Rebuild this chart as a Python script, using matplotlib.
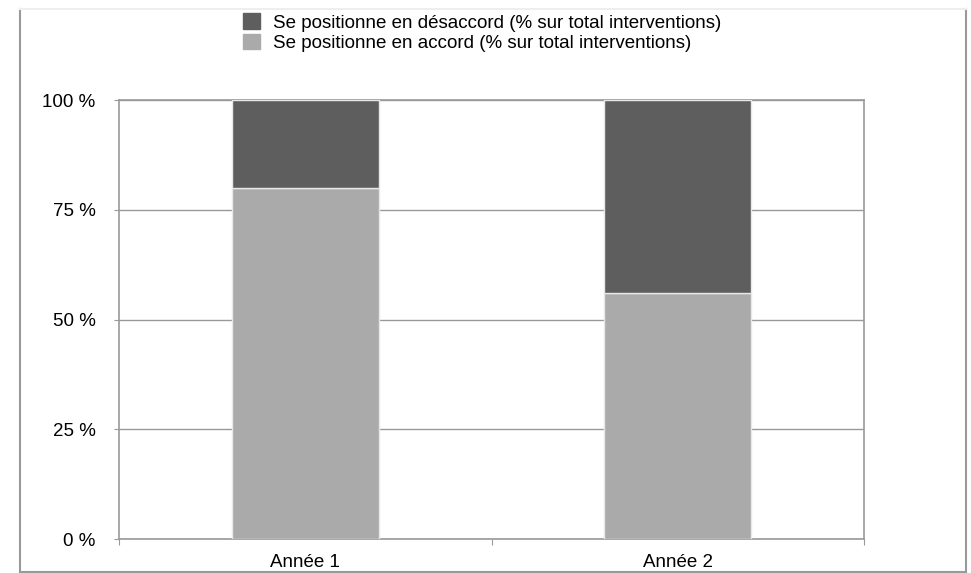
import matplotlib.pyplot as plt
from matplotlib.lines import Line2D
from matplotlib.patches import Patch

plt.rcParams['font.family'] = ['Liberation Sans', 'DejaVu Sans']

# categories and stacked shares (percent of total interventions)
years = ['Année 1', 'Année 2']
accord = [80, 56]
desaccord = [20, 44]
ytick_vals = [0, 25, 50, 75, 100]
ytick_labels = ['0 %', '25 %', '50 %', '75 %', '100 %']

c_dark = '#5e5e5e'
c_light = '#aaaaaa'
c_grid = '#999999'

fig = plt.figure(figsize=(9.71, 5.73), dpi=100)
ax = fig.add_axes([119 / 971, 34 / 573, 745 / 971, 439 / 573])

x = range(len(years))
ax.bar(x, accord, width=0.395, color=c_light, edgecolor='#e8e8e8', linewidth=1.0, zorder=3)
ax.bar(x, desaccord, bottom=accord, width=0.395, color=c_dark, edgecolor='#e8e8e8',
       linewidth=1.0, zorder=3)

ax.set_xlim(-0.5, 1.5)
ax.set_ylim(0, 100)
ax.set_yticks(ytick_vals)
ax.set_yticklabels(ytick_labels, fontsize=13.5)
ax.set_xticks([-0.5, 0.5, 1.5])
ax.set_xticklabels([])
ax.set_xticks(list(x), minor=True)
ax.set_xticklabels(years, minor=True, fontsize=13.5)
ax.tick_params(axis='x', which='minor', length=0, pad=11)
ax.tick_params(axis='x', which='major', length=4, color=c_grid)
ax.tick_params(axis='y', length=3.5, color=c_grid, pad=13.5)
ax.grid(axis='y', color=c_grid, linewidth=1.0, zorder=0)
for s in ax.spines.values():
    s.set_color(c_grid)
    s.set_linewidth(1.2)

# outer frame: grey sides and bottom, very faint top
for xs, ys, col in [([19.5, 19.5], [9, 571.5], '#999999'),
                    ([965.5, 965.5], [9, 571.5], '#999999'),
                    ([19.5, 965.5], [571.5, 571.5], '#999999'),
                    ([19.5, 965.5], [8.5, 8.5], '#eeeeee')]:
    fig.add_artist(Line2D([v / 971 for v in xs], [1 - v / 573 for v in ys],
                          transform=fig.transFigure, color=col, linewidth=1.5))

handles = [Patch(color=c_dark, label='Se positionne en désaccord (% sur total interventions)'),
           Patch(color=c_light, label='Se positionne en accord (% sur total interventions)')]
fig.legend(handles=handles, loc='upper left', bbox_to_anchor=(234 / 971, 1 - 4 / 573),
           frameon=False, fontsize=13.5, handlelength=0.9, handleheight=0.9,
           handletextpad=0.7, labelspacing=0.1, borderpad=0)

fig.savefig('out.png', dpi=100)
